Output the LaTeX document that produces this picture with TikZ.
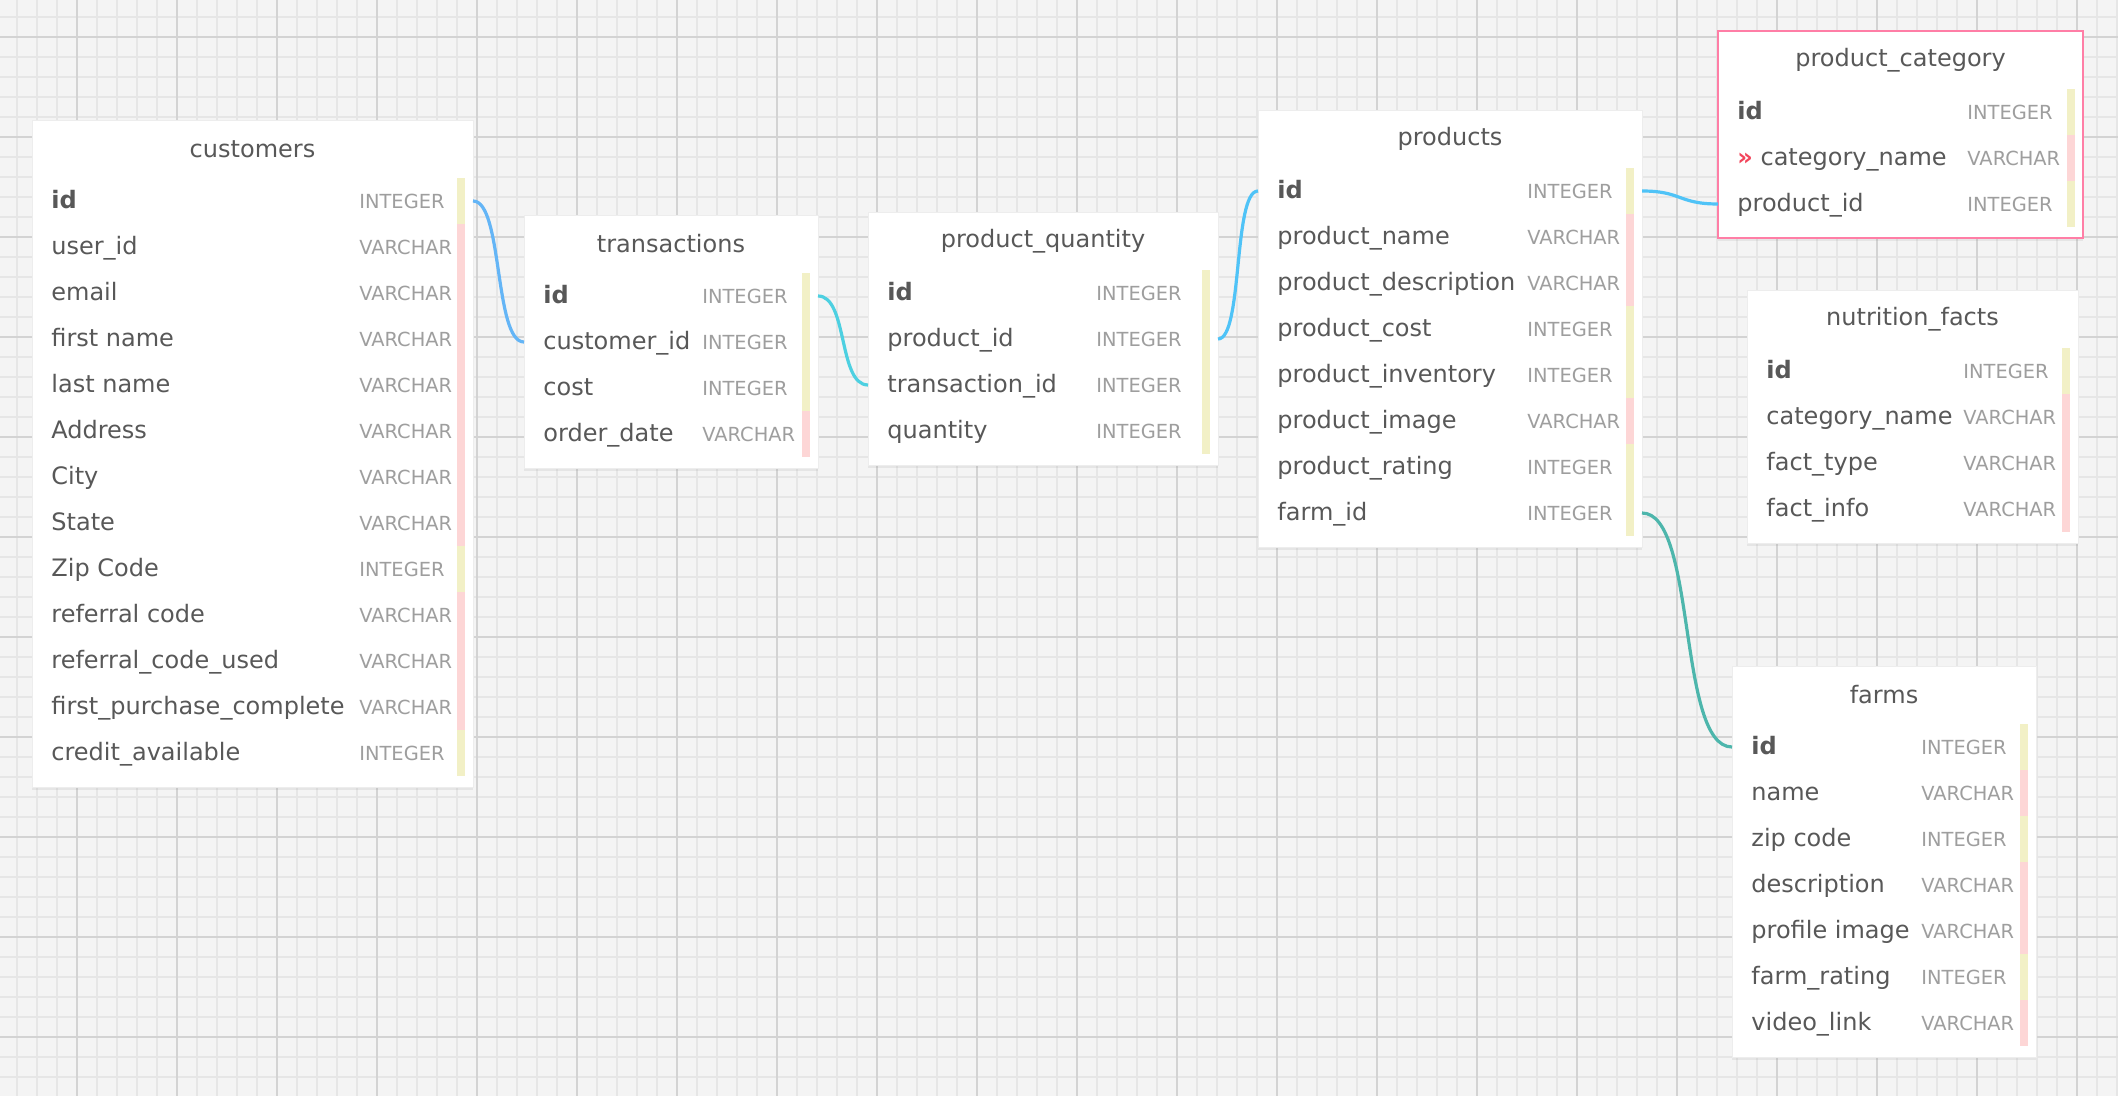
\documentclass[tikz,border=0pt]{standalone}
\usepackage{fontspec}
\setmainfont{DejaVu Sans}
\usetikzlibrary{shadows}

\definecolor{paper}{HTML}{F4F4F4}
\definecolor{minorgrid}{HTML}{E6E6E6}
\definecolor{majorgrid}{HTML}{D3D3D3}
\definecolor{fieldgray}{HTML}{585858}
\definecolor{typegray}{HTML}{9E9E9E}
\definecolor{INTEGER}{HTML}{F2F0C6}
\definecolor{VARCHAR}{HTML}{FDD6D6}
\definecolor{selpink}{HTML}{FF7EA6}
\definecolor{keyred}{HTML}{F2455B}
\definecolor{linkblue}{HTML}{64B5F6}
\definecolor{linkcyan}{HTML}{4DD0E1}
\definecolor{linksky}{HTML}{4FC3F7}
\definecolor{linkteal}{HTML}{4DB6AC}

\begin{document}
\begin{tikzpicture}[x=0.5pt, y=-0.5pt,
    minorline/.style={minorgrid, line width=0.75pt},
    majorline/.style={majorgrid, line width=1pt},
    tablebox/.style={draw=black!7, fill=white, inner sep=0, outer sep=0, anchor=north west,
        drop shadow={shadow xshift=0pt, shadow yshift=-1.5pt, opacity=0.12}},
    selectedbox/.style={draw=selpink, line width=1pt},
    rowbox/.style={inner sep=0, outer sep=0, anchor=north west},
    titletext/.style={text=fieldgray, inner sep=0, font=\fontsize{12}{14}\selectfont},
    fieldtext/.style={text=fieldgray, inner sep=0, anchor=west, text height=1.6ex, text depth=0.4ex,
        yshift=-0.6pt, font=\fontsize{12}{14}\selectfont},
    typetext/.style={text=typegray, inner sep=0, anchor=west, text height=1.6ex, text depth=0.4ex,
        yshift=-0.6pt, font=\fontsize{9.7}{12}\selectfont},
    link/.style={line width=1.6pt}]

    \newcommand*{\px}{0.5pt}%
    \newcommand*{\headh}{58}%
    \newcommand*{\rowh}{46}%

    % one table: [style] name, left, top, width, type column, title, rows
    \newcommand*{\dbtable}[8][]{%
        \foreach \f/\t [count=\n] in {#8} {\xdef\numrows{\n}}%
        \node[tablebox, #1, minimum width=#5*\px, minimum height={(\headh+\numrows*\rowh+11)*\px}] (#2) at (#3,#4) {};
        \node[titletext] (#2-title) at ({#3+#5/2},{#4+\headh/2}) {#7};
        \foreach \f/\t [count=\n] in {#8} {
            \node[rowbox, minimum width=#5*\px, minimum height=\rowh*\px] (#2-\n) at ({#3},{#4+\headh+(\n-1)*\rowh}) {};
            \fill[fill=\t] ({#3+#5-16},{#4+\headh+(\n-1)*\rowh}) rectangle ({#3+#5-8},{#4+\headh+\n*\rowh});
            \node[fieldtext] (#2-\n-name) at ({#3+19},{#4+\headh+(\n-0.5)*\rowh}) {\f};
            \node[typetext] (#2-\n-type) at ({#3+#6},{#4+\headh+(\n-0.5)*\rowh}) {\t};
        }%
    }

    \useasboundingbox (0,0) rectangle (2118,1096);

    % grid ↓
    \fill[paper] (0,0) rectangle (2118,1096);
    \foreach \gx in {17,37,...,2117}
        \draw[minorline] (\gx,0) -- (\gx,1096);
    \foreach \gy in {17,37,...,1097}
        \draw[minorline] (0,\gy) -- (2118,\gy);
    \foreach \gx in {77,177,...,2077}
        \draw[majorline] (\gx,0) -- (\gx,1096);
    \foreach \gy in {37,137,...,1037}
        \draw[majorline] (0,\gy) -- (2118,\gy);

    % tables ↓
    \dbtable{cust}{32}{120}{441}{327}{customers}{\textbf{id}/INTEGER, user\_id/VARCHAR, email/VARCHAR,
        first name/VARCHAR, last name/VARCHAR, Address/VARCHAR, City/VARCHAR, State/VARCHAR,
        Zip Code/INTEGER, referral code/VARCHAR, referral\_code\_used/VARCHAR,
        first\_purchase\_complete/VARCHAR, credit\_available/INTEGER}
    \dbtable{trans}{524}{215}{294}{178}{transactions}{\textbf{id}/INTEGER, customer\_id/INTEGER,
        cost/INTEGER, order\_date/VARCHAR}
    \dbtable{pq}{868}{212}{350}{228}{product\_quantity}{\textbf{id}/INTEGER, product\_id/INTEGER,
        transaction\_id/INTEGER, quantity/INTEGER}
    \dbtable{prod}{1258}{110}{384}{269}{products}{\textbf{id}/INTEGER, product\_name/VARCHAR,
        product\_description/VARCHAR, product\_cost/INTEGER, product\_inventory/INTEGER,
        product\_image/VARCHAR, product\_rating/INTEGER, farm\_id/INTEGER}
    \dbtable[selectedbox]{pcat}{1718}{31}{365}{249}{product\_category}{\textbf{id}/INTEGER,
        {\textcolor{keyred}{\textbf{»}}\ category\_name}/VARCHAR, product\_id/INTEGER}
    \dbtable{facts}{1747}{290}{331}{216}{nutrition\_facts}{\textbf{id}/INTEGER, category\_name/VARCHAR,
        fact\_type/VARCHAR, fact\_info/VARCHAR}
    \dbtable{farms}{1732}{666}{304}{189}{farms}{\textbf{id}/INTEGER, name/VARCHAR, zip code/INTEGER,
        description/VARCHAR, profile image/VARCHAR, farm\_rating/INTEGER, video\_link/VARCHAR}

    % links ↓
    \draw[link, linkblue] (cust-1.east) .. controls +(30,0) and +(-30,0) .. (trans-2.west);
    \draw[link, linkcyan] (trans-1.east) .. controls +(30,0) and +(-30,0) .. (pq-3.west);
    \draw[link, linksky] (pq-2.east) .. controls +(25,0) and +(-25,0) .. (prod-1.west);
    \draw[link, linksky] (prod-1.east) .. controls +(40,0) and +(-40,0) .. (pcat-3.west);
    \draw[link, linkteal] (prod-8.east) .. controls +(55,0) and +(-55,0) .. (farms-1.west);

\end{tikzpicture}
\end{document}
